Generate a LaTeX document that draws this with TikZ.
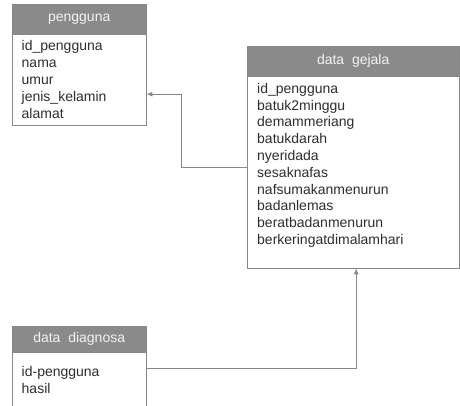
\documentclass[tikz,border=0pt]{standalone}
\usepackage{fontspec}
\setmainfont{Liberation Sans}
\usetikzlibrary{arrows.meta}
\definecolor{hdr}{HTML}{8A8A8A}
\definecolor{edge}{HTML}{888888}
\definecolor{hdrtxt}{HTML}{F2F2F2}
\definecolor{txt}{HTML}{2E2E2E}
\tikzset{
  hdrbox/.style={draw=edge, fill=hdr, anchor=north west, inner sep=0pt, text=hdrtxt,
    font=\fontsize{14}{16.8}\selectfont},
  bodybox/.style={draw=edge, fill=white, anchor=north west, inner sep=0pt},
  fields/.style={anchor=north west, inner sep=0pt, align=left, text=txt,
    font=\fontsize{14}{16.8}\selectfont},
  conn/.style={draw=edge, line width=0.9pt, -{Latex[length=6pt,width=5pt]}}
}
\begin{document}
\begin{tikzpicture}[x=1pt,y=-1pt]
\useasboundingbox (0,0) rectangle (460,406);
\fill[white] (0,0) rectangle (460,406);
% pengguna
\node[hdrbox, minimum width=134pt, minimum height=30pt] (ph) at (12,4) {pengguna};
\node[bodybox, minimum width=134pt, minimum height=91pt] (pb) at (12,34) {};
\node[fields] (pf) at (21.5,40.5) {id\_pengguna\\nama\\umur\\jenis\_kelamin\\alamat};
% data gejala
\node[hdrbox, minimum width=212pt, minimum height=30pt] (gh) at (247,46) {data\ \ gejala};
\node[bodybox, minimum width=212pt, minimum height=192pt] (gb) at (247,76) {};
\node[fields] (gf) at (257,83) {id\_pengguna\\batuk2minggu\\demammeriang\\batukdarah\\nyeridada\\sesaknafas\\nafsumakanmenurun\\badanlemas\\beratbadanmenurun\\berkeringatdimalamhari};
% data diagnosa
\node[hdrbox, minimum width=134pt, minimum height=26pt] (dh) at (12,326) {data\ \ diagnosa};
\node[bodybox, minimum width=134pt, minimum height=60pt] (db) at (12,352) {};
\node[fields] (df) at (21.5,366.5) {id-pengguna\\hasil};
% connectors
\draw[conn] ([yshift=5pt]gb.west) -| ([xshift=35pt,yshift=-14.5pt]pb.east) -- ([yshift=-14.5pt]pb.east);
\draw[conn] ([yshift=14pt]db.east) -| ([xshift=3pt]gb.south);
\end{tikzpicture}
\end{document}
